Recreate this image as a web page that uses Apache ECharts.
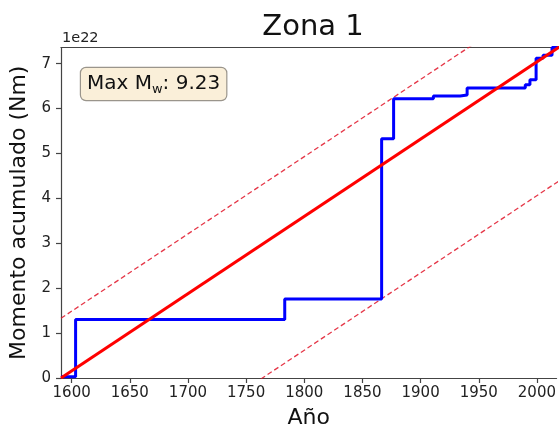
<!DOCTYPE html>
<html>
<head>
<meta charset="utf-8">
<script src="https://cdn.jsdelivr.net/npm/echarts/dist/echarts.min.js"></script>
<style>
html,body{margin:0;padding:0;background:#fff;}
#chart{width:559px;height:434px;}
</style>
</head>
<body>
<div id="chart"></div>
<script>
// Cumulative seismic moment (units of 1e22 Nm)
const stepYears  = [1590.9, 1603.4, 1783.2, 1866.5, 1876.8, 1911, 1934, 1940, 1990, 1994, 1999.3, 2005.3, 2013, 2022];
const stepValues = [0.03, 1.30, 1.76, 5.33, 6.22, 6.28, 6.30, 6.46, 6.53, 6.64, 7.12, 7.19, 7.36, 7.36];
// Average moment-rate line and its envelopes
const rateYears   = [1590.85, 2022];
const rateValues  = [0, 7.42];
const upperValues = [1.33, 8.75];
const lowerValues = [-2.98, 4.44];
// Tick labels
const xTicks = [1600, 1650, 1700, 1750, 1800, 1850, 1900, 1950, 2000];
const yTicks = [0, 1, 2, 3, 4, 5, 6, 7];
const titleText = 'Zona 1';
const maxMw = '9.23';

const FONT = 'DejaVu Sans';
const X_MIN = 1590.85, X_MAX = 2016.9;
const zip = (a, b) => a.map((v, i) => [v, b[i]]);

const chart = echarts.init(document.getElementById('chart'), null, {renderer: 'canvas'});
chart.setOption({
  animation: false,
  backgroundColor: '#ffffff',
  textStyle: {fontFamily: FONT},
  grid: {left: 61, right: 0, top: 47.5, bottom: 50, show: false, containLabel: false},
  xAxis: [{
    type: 'value', min: X_MIN, max: X_MAX,
    name: 'Año', nameLocation: 'middle', nameGap: 29,
    nameTextStyle: {fontSize: 22, color: '#111', fontFamily: FONT},
    axisLine: {show: true, lineStyle: {color: '#444', width: 1.2}},
    axisTick: {show: true, length: 5, lineStyle: {color: '#444', width: 1.2}, customValues: xTicks},
    axisLabel: {fontSize: 15, color: '#222', margin: 8, fontFamily: FONT, customValues: xTicks, formatter: v => String(v)},
    splitLine: {show: false}
  }, {
    type: 'value', position: 'top', min: X_MIN, max: X_MAX,
    axisLine: {show: true, onZero: false, lineStyle: {color: '#444', width: 1.2}},
    axisTick: {show: false}, axisLabel: {show: false}, splitLine: {show: false}
  }],
  yAxis: {
    type: 'value', min: 0, max: 7.36,
    name: 'Momento acumulado (Nm)', nameLocation: 'middle', nameGap: 19, nameRotate: 90,
    nameTextStyle: {fontSize: 22, color: '#111', fontFamily: FONT},
    axisLine: {show: true, lineStyle: {color: '#444', width: 1.2}},
    axisTick: {show: true, length: 5, lineStyle: {color: '#444', width: 1.2}, customValues: yTicks},
    axisLabel: {fontSize: 15, color: '#222', margin: 10, fontFamily: FONT, customValues: yTicks},
    splitLine: {show: false}
  },
  series: [
    {type: 'line', data: zip(rateYears, upperValues), symbol: 'none', clip: true,
     lineStyle: {color: 'rgba(225,20,40,0.85)', width: 1.3, type: [5, 3]}},
    {type: 'line', data: zip(rateYears, lowerValues), symbol: 'none', clip: true,
     lineStyle: {color: 'rgba(225,20,40,0.85)', width: 1.3, type: [5, 3]}},
    {type: 'line', data: zip(stepYears, stepValues), step: 'end', symbol: 'none', clip: true,
     lineStyle: {color: '#0000ff', width: 3}},
    {type: 'line', data: zip(rateYears, rateValues), symbol: 'none', clip: true,
     lineStyle: {color: '#ff0000', width: 3}}
  ],
  graphic: [
    {type: 'text', x: 313, y: 27.5, style: {text: titleText, font: '29px "DejaVu Sans"', fill: '#111', align: 'center', verticalAlign: 'middle'}},
    {type: 'text', x: 62, y: 38.5, style: {text: '1e22', font: '14.5px "DejaVu Sans"', fill: '#222', align: 'left', verticalAlign: 'middle'}},
    {type: 'text', x: 81, y: 68, style: {
      text: '{a|Max M}{s|w}{a|: ' + maxMw + '}',
      align: 'left', verticalAlign: 'top',
      backgroundColor: '#faefd9', borderColor: '#9a958c', borderWidth: 1.2, borderRadius: 5,
      padding: [4, 6, 4, 6],
      rich: {
        a: {fontSize: 20, fontFamily: FONT, fill: '#111', lineHeight: 24, verticalAlign: 'middle'},
        s: {fontSize: 13, fontFamily: FONT, fill: '#111', lineHeight: 14, verticalAlign: 'bottom'}
      }
    }}
  ]
});
</script>
</body>
</html>
